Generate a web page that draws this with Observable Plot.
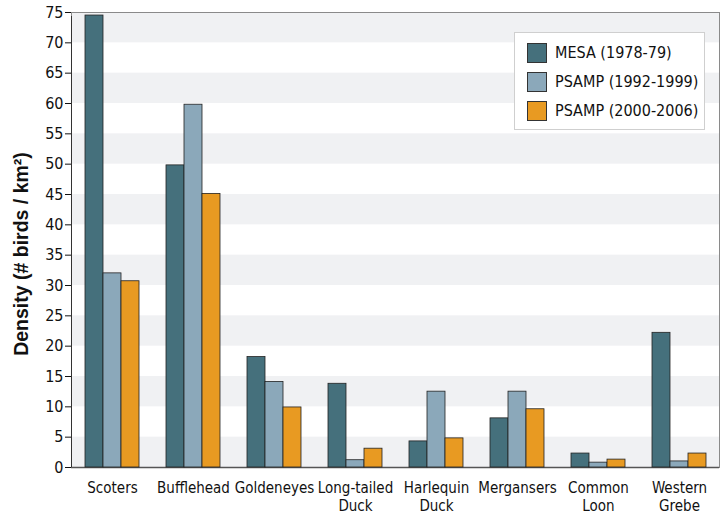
<!DOCTYPE html>
<html>
<head>
<meta charset="utf-8">
<script src="https://cdn.jsdelivr.net/npm/d3@7"></script>
<script src="https://cdn.jsdelivr.net/npm/@observablehq/plot@0.6"></script>
<style>
  html, body { margin: 0; padding: 0; background: #fff; }
  #wrap { position: relative; width: 721px; height: 517px; }
  #wrap svg { position: absolute; left: 0; top: 0; }
  #ylabel { position: absolute; left: 21px; top: 254px; transform: translate(-50%, -50%) rotate(-90deg); white-space: nowrap; font-family: "Liberation Sans", Arial, sans-serif; font-weight: bold; font-size: 19.5px; color: #111; }
  #legend { position: absolute; left: 514px; top: 32px; width: 191px; height: 98px; background: #fff; border: 1px solid #cfcfcf; box-sizing: border-box; font-family: "DejaVu Sans Condensed", "DejaVu Sans", sans-serif; font-stretch: condensed; font-size: 16px; color: #111; white-space: nowrap; }
  #legend .row { display: flex; align-items: center; height: 29px; margin-left: 12px; }
  #legend .row:first-child { margin-top: 5px; }
  #legend .sw { width: 18px; height: 18px; border: 1px solid #333; margin-right: 8px; flex: none; }
</style>
</head>
<body>
<div id="wrap"></div>
<script>
const categories = ["Scoters", "Bufflehead", "Goldeneyes", "Long-tailed\nDuck", "Harlequin\nDuck", "Mergansers", "Common\nLoon", "Western\nGrebe"];
const seriesNames = ["MESA (1978-79)", "PSAMP (1992-1999)", "PSAMP (2000-2006)"];
const seriesColors = ["#45707c", "#8ba8ba", "#e89a22"];
const mesa   = [74.5, 49.8, 18.2, 13.8, 4.3, 8.1, 2.3, 22.2];
const psamp1 = [32.0, 59.8, 14.1, 1.2, 12.5, 12.5, 0.8, 1.0];
const psamp2 = [30.7, 45.1, 9.9, 3.1, 4.8, 9.6, 1.3, 2.3];
const yTicks = d3.range(0, 76, 5);
const yLabel = "Density (# birds / km²)";

const seriesValues = [mesa, psamp1, psamp2];
const data = [];
categories.forEach((c, i) => seriesValues.forEach((vals, s) => data.push({cat: c, series: seriesNames[s], value: vals[i]})));
const stripes = yTicks.slice(0, -1).filter((t, i) => (yTicks.length - 2 - i) % 2 === 0).map(t => ({lo: t, hi: t + 5}));

const W = 721, H = 517;
const margins = {marginTop: 12, marginBottom: 50, marginLeft: 71, marginRight: 2};
const font = `"DejaVu Sans Condensed", "DejaVu Sans", sans-serif`;

const bg = Plot.plot({
  width: W, height: H, ...margins,
  style: {fontFamily: font, fontStretch: "condensed", fontSize: "15px", color: "#111", background: "transparent"},
  x: {domain: [0, 1], axis: null},
  y: {domain: [0, 75], axis: null},
  marks: [
    Plot.barY(stripes, {y1: "lo", y2: "hi", fill: "#f0f1f3"}),
    Plot.frame({stroke: "#8a8a8a"}),
    Plot.ruleY([0], {stroke: "#555", strokeWidth: 1.5}),
    Plot.ruleX([0], {stroke: "#333", y1: 0, y2: 75, insetBottom: -4}),
    Plot.axisY({ticks: yTicks, tickSize: 6, tickPadding: 2, fontSize: 16, label: null})
  ]
});

const fg = Plot.plot({
  width: W, height: H, ...margins,
  style: {fontFamily: font, fontStretch: "condensed", fontSize: "15px", color: "#111", background: "transparent"},
  fx: {domain: categories, paddingInner: 0.337, paddingOuter: 0.147, label: null},
  x: {domain: seriesNames, padding: 0, axis: null},
  y: {domain: [0, 75], axis: null},
  color: {domain: seriesNames, range: seriesColors},
  marks: [
    Plot.barY(data, {fx: "cat", x: "series", y: "value", fill: "series", stroke: "#222", strokeWidth: 0.8}),
    Plot.axisFx({anchor: "bottom", tickSize: 0, tickPadding: 13, fontSize: 15, label: null, lineHeight: 1.2})
  ]
});

const wrap = document.getElementById("wrap");
wrap.appendChild(bg);
wrap.appendChild(fg);

const yl = document.createElement("div");
yl.id = "ylabel";
yl.textContent = yLabel;
wrap.appendChild(yl);

const legend = document.createElement("div");
legend.id = "legend";
seriesNames.forEach((n, i) => {
  const row = document.createElement("div");
  row.className = "row";
  const sw = document.createElement("div");
  sw.className = "sw";
  sw.style.background = seriesColors[i];
  const t = document.createElement("span");
  t.textContent = n;
  row.appendChild(sw); row.appendChild(t);
  legend.appendChild(row);
});
wrap.appendChild(legend);
</script>
</body>
</html>
